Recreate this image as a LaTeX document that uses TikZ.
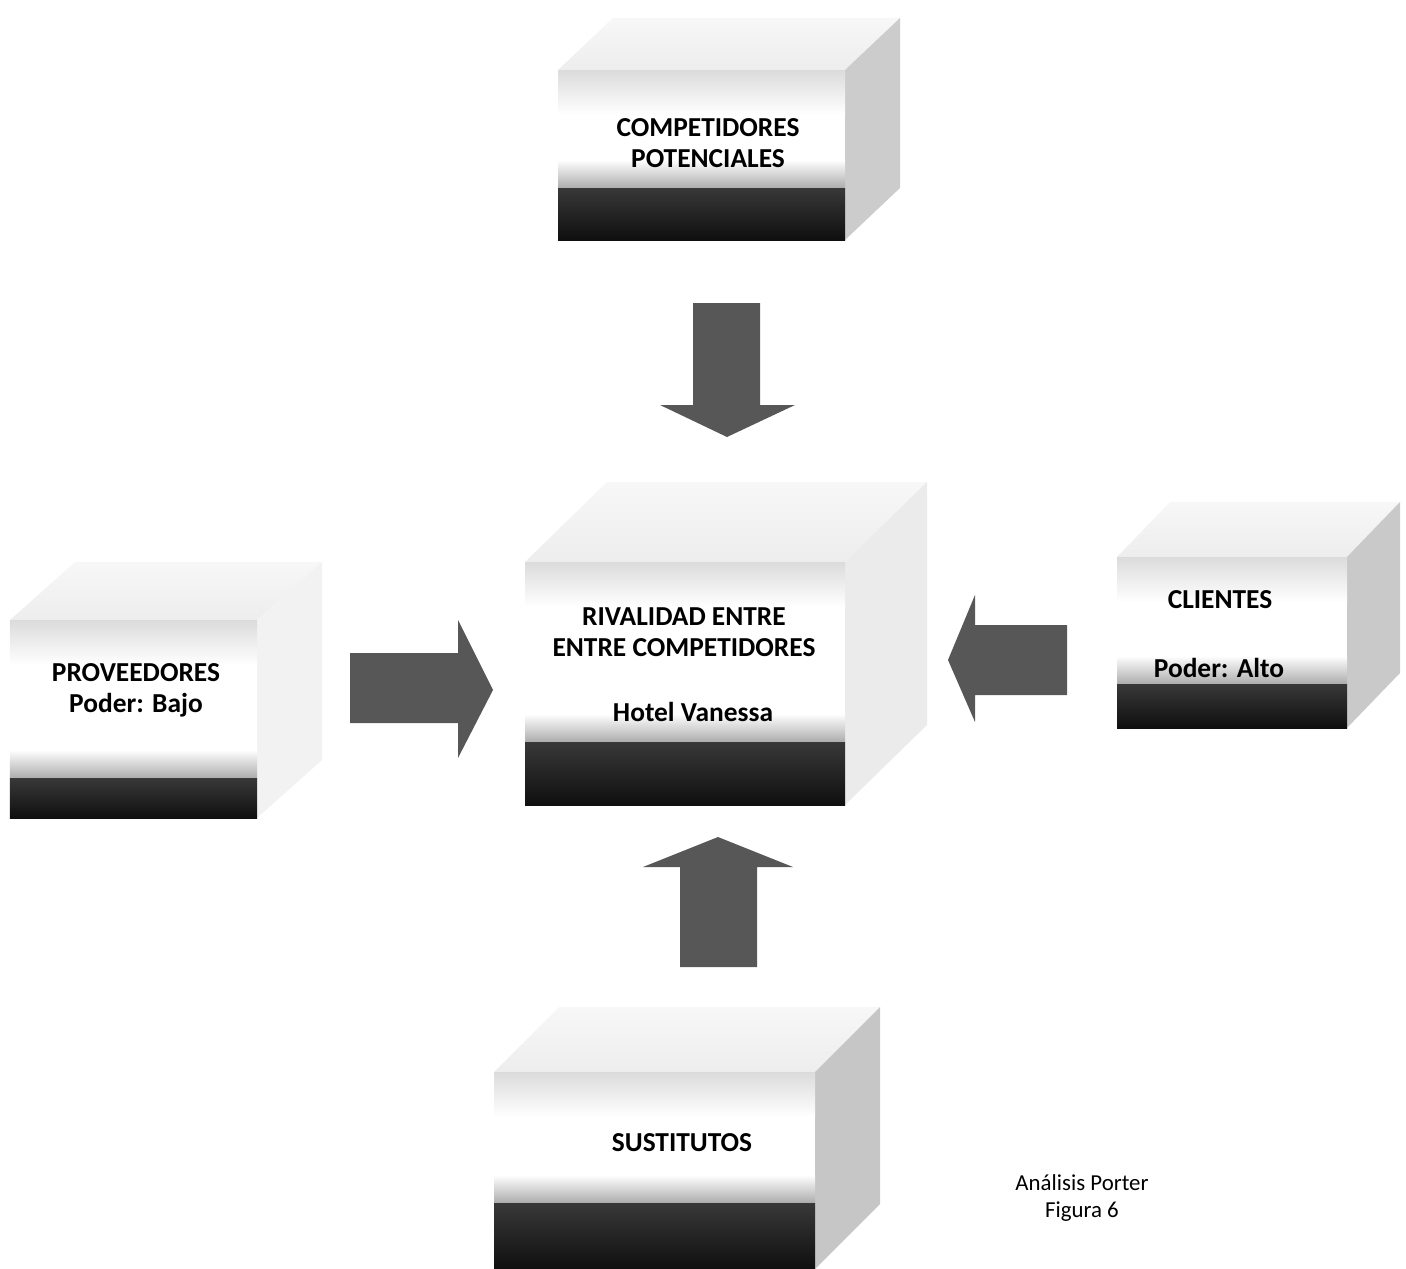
\documentclass[tikz,border=0pt]{standalone}
\usepackage{fontspec}
\setmainfont{Carlito}
\usetikzlibrary{calc}
\tikzset{
  force arrow/.style={fill=black!66},
  box text/.style={font=\bfseries\fontsize{7.8}{8.9}\selectfont, align=center, inner sep=0pt},
  caption text/.style={font=\fontsize{6.5}{7.7}\selectfont, align=center, inner sep=0pt},
}
% #1 name, #2/#3 front top left, #4/#5 front bottom right,
% #6/#7 depth, #8 top of dark band, #9 shade of the side face
\newcommand{\forcebox}[9]{%
  \coordinate (#1-nw) at (#2,#3);
  \coordinate (#1-ne) at (#4,#3);
  \coordinate (#1-se) at (#4,#5);
  \coordinate (#1-sw) at (#2,#5);
  % top face
  \shade[top color=gray!6, bottom color=gray!14]
    (#1-nw) -- (#1-ne) -- ++(#6,#7) -- ($(#1-nw)+(#6,#7)$) -- cycle;
  % side face
  \shade[top color=gray!#9, bottom color=gray!#9!white]
    (#1-ne) -- ++(#6,#7) -- ($(#1-se)+(#6,#7)$) -- (#1-se) -- cycle;
  % front face
  \shade[top color=gray!28, bottom color=white] (#1-nw) rectangle (#4,{#3+45});
  \fill[white] (#2,{#3+45}) rectangle (#4,{#8-28});
  \shade[top color=white, bottom color=gray!65] (#2,{#8-28}) rectangle (#4,#8);
  \shade[top color=black!78, bottom color=black!94] (#2,#8) rectangle (#1-se);
}

\begin{document}
\begin{tikzpicture}[x=0.1mm, y=-0.1mm]
  \useasboundingbox (0,0) rectangle (1406,1269);

  % Boxes
  \forcebox{comp}{558}{70}{845}{240}{55}{-52}{188}{40}
  \forcebox{riv}{525}{562}{845}{805}{82}{-80}{742}{16}
  \forcebox{cli}{1117}{557}{1347}{728}{53}{-55}{684}{42}
  \forcebox{prov}{10}{620}{257}{818}{65}{-58}{778}{10}
  \forcebox{sust}{494}{1072}{815}{1269}{65}{-65}{1203}{45}

  % Texts
  \node[box text] (comp) at (708,143) {COMPETIDORES\\POTENCIALES};
  \node[box text] (riv) at (684,632) {RIVALIDAD ENTRE\\ENTRE COMPETIDORES};
  \node[box text] (hotel) at (693,712) {Hotel Vanessa};
  \node[box text] (cli) at (1220,600) {CLIENTES};
  \node[box text] (clipow) at (1219,668) {Poder: Alto};
  \node[box text] (prov) at (136,690) {PROVEEDORES\\Poder: Bajo};
  \node[box text] (sust) at (682,1143) {SUSTITUTOS};
  \node[caption text] (fig) at (1082,1198) {Análisis Porter\\Figura 6};

  % Arrows
  \fill[force arrow] (693,303) -- (760,303) -- (760,405) -- (795,405)
    -- (727,437) -- (660,405) -- (693,405) -- cycle;
  \fill[force arrow] (680,967) -- (757,967) -- (757,867) -- (793,867)
    -- (718,837) -- (643,867) -- (680,867) -- cycle;
  \fill[force arrow] (350,653) -- (458,653) -- (458,620) -- (493,690)
    -- (458,758) -- (458,723) -- (350,723) -- cycle;
  \fill[force arrow] (1067,625) -- (975,625) -- (975,595) -- (948,660)
    -- (975,722) -- (975,695) -- (1067,695) -- cycle;

\end{tikzpicture}
\end{document}
